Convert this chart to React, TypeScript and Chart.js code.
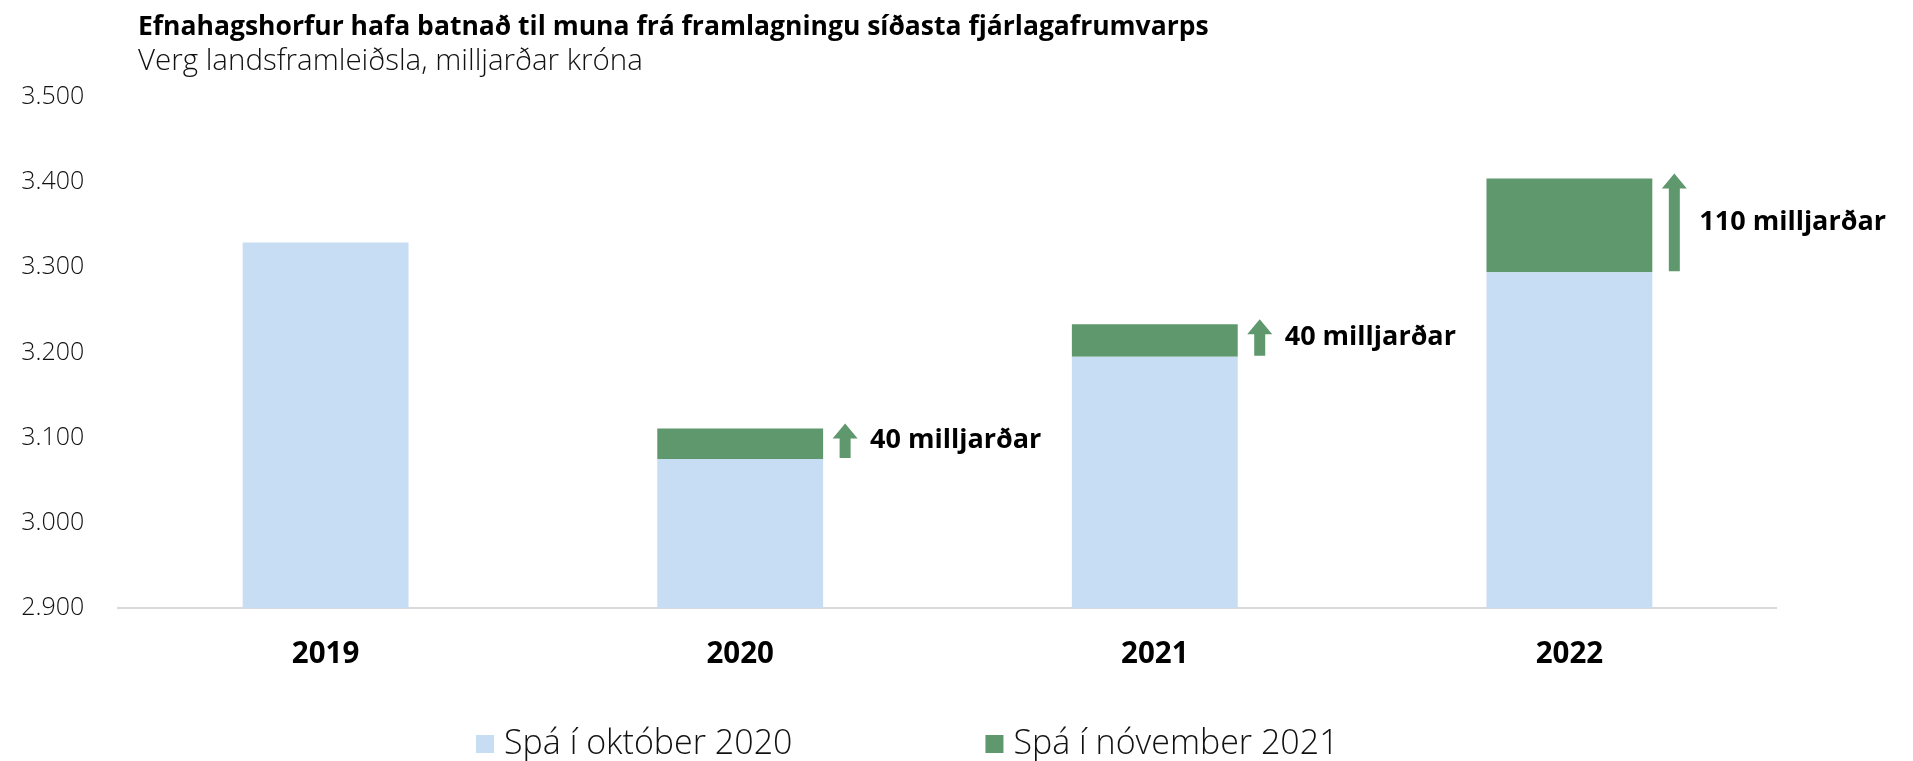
import React, { useEffect, useRef } from "react";
import { Chart, registerables } from "chart.js";

Chart.register(...registerables);

const titleText = "Efnahagshorfur hafa batnað til muna frá framlagningu síðasta fjárlagafrumvarps";
const subtitleText = "Verg landsframleiðsla, milljarðar króna";
const categories = ["2019", "2020", "2021", "2022"];
const octoberForecast = [3329, 3075, 3195, 3294];
const novemberForecast: (number | null)[] = [null, 3111, 3233, 3404];
const changeLabels = ["", "40 milljarðar", "40 milljarðar", "110 milljarðar"];
const seriesNames = ["Spá í október 2020", "Spá í nóvember 2021"];
const yMin = 2900;
const yMax = 3500;
const yStep = 100;

const BLUE = "#c7ddf4";
const GREEN = "#5f986c";
const TEXT = "#111";
const FONT = "'Open Sans', 'Noto Sans', sans-serif";

const fmt = (v: number) => String(v).replace(/\B(?=(\d{3})+(?!\d))/g, ".");

const overlay = {
  id: "overlay",
  afterDraw(chart: any) {
    const ctx = chart.ctx as CanvasRenderingContext2D;
    const y = chart.scales.y;
    ctx.save();
    ctx.textBaseline = "middle";
    ctx.textAlign = "left";
    ctx.fillStyle = "#000";
    ctx.font = `700 26.5px ${FONT}`;
    ctx.fillText(titleText, 138, 27);
    ctx.fillStyle = TEXT;
    ctx.font = `300 29.5px ${FONT}`;
    ctx.fillText(subtitleText, 138, 62);

    // change arrows + labels
    const meta = chart.getDatasetMeta(1);
    meta.data.forEach((bar: any, i: number) => {
      const hi = novemberForecast[i];
      if (hi == null || !changeLabels[i]) return;
      const p = bar.getProps(["x", "width"], true);
      const right = p.x + p.width / 2;
      const cx = right + 22;
      const yBottom = y.getPixelForValue(octoberForecast[i]) - 1;
      const yTop = y.getPixelForValue(hi) - 5;
      const headH = 15;
      const headW = 25;
      const shaftW = 11;
      ctx.fillStyle = GREEN;
      ctx.beginPath();
      ctx.moveTo(cx, yTop);
      ctx.lineTo(cx + headW / 2, yTop + headH);
      ctx.lineTo(cx + shaftW / 2, yTop + headH);
      ctx.lineTo(cx + shaftW / 2, yBottom);
      ctx.lineTo(cx - shaftW / 2, yBottom);
      ctx.lineTo(cx - shaftW / 2, yTop + headH);
      ctx.lineTo(cx - headW / 2, yTop + headH);
      ctx.closePath();
      ctx.fill();
      ctx.fillStyle = "#000";
      ctx.font = `700 27px ${FONT}`;
      ctx.fillText(changeLabels[i], right + 47, (yTop + yBottom) / 2);
    });

    // legend
    const colors = chart.data.datasets.map((d: any) => d.backgroundColor);
    ctx.font = `300 34px ${FONT}`;
    const box = 18;
    const gapText = 10;
    const gapItem = 193;
    const widths = seriesNames.map((n) => box + gapText + ctx.measureText(n).width);
    let lx = 476;
    const ly = 744;
    seriesNames.forEach((n, i) => {
      ctx.fillStyle = colors[i];
      ctx.fillRect(lx, ly - box / 2, box, box);
      ctx.fillStyle = TEXT;
      ctx.fillText(n, lx + box + gapText, ly);
      lx += widths[i] + gapItem;
    });
    ctx.restore();
  },
};

export default function App() {
  const ref = useRef<HTMLCanvasElement | null>(null);
  useEffect(() => {
    document.body.style.margin = "0";
    const canvas = ref.current!;
    const increments = novemberForecast.map((v, i) => (v == null ? null : v - octoberForecast[i]));
    const chart = new Chart(canvas, {
      type: "bar",
      data: {
        labels: categories,
        datasets: [
          { label: seriesNames[0], data: octoberForecast, backgroundColor: BLUE, borderWidth: 0 },
          { label: seriesNames[1], data: increments as any, backgroundColor: GREEN, borderWidth: 0 },
        ],
      },
      options: {
        responsive: false,
        animation: false,
        devicePixelRatio: 1,
        layout: { padding: { top: 96.7, right: 136.3, bottom: 92.7, left: 0 } },
        datasets: { bar: { categoryPercentage: 1, barPercentage: 0.4 } },
        plugins: {
          legend: { display: false },
          title: { display: false },
          tooltip: { enabled: false },
        },
        scales: {
          x: {
            stacked: true,
            z: 1,
            grid: { display: false },
            border: { display: true, color: "#d9d9d9", width: 2 },
            ticks: { color: "#000", font: { family: FONT, size: 29.5, weight: "bold" }, padding: 21 },
            afterFit: (s: any) => {
              s.height = 60;
            },
          },
          y: {
            stacked: true,
            min: yMin,
            max: yMax,
            grid: { display: false, drawTicks: false },
            border: { display: false },
            ticks: {
              stepSize: yStep,
              color: TEXT,
              padding: 34,
              font: { family: FONT, size: 25, weight: 300 as any },
              callback: (v: any) => fmt(Number(v)),
            },
            afterFit: (s: any) => {
              s.width = 118.3;
            },
          },
        },
      },
      plugins: [overlay],
    });
    return () => chart.destroy();
  }, []);
  return (
    <div style={{ position: "absolute", left: 0, top: 0, width: 1913, height: 761 }}>
      <canvas ref={ref} width={1913} height={761} style={{ width: 1913, height: 761, display: "block" }} />
    </div>
  );
}
